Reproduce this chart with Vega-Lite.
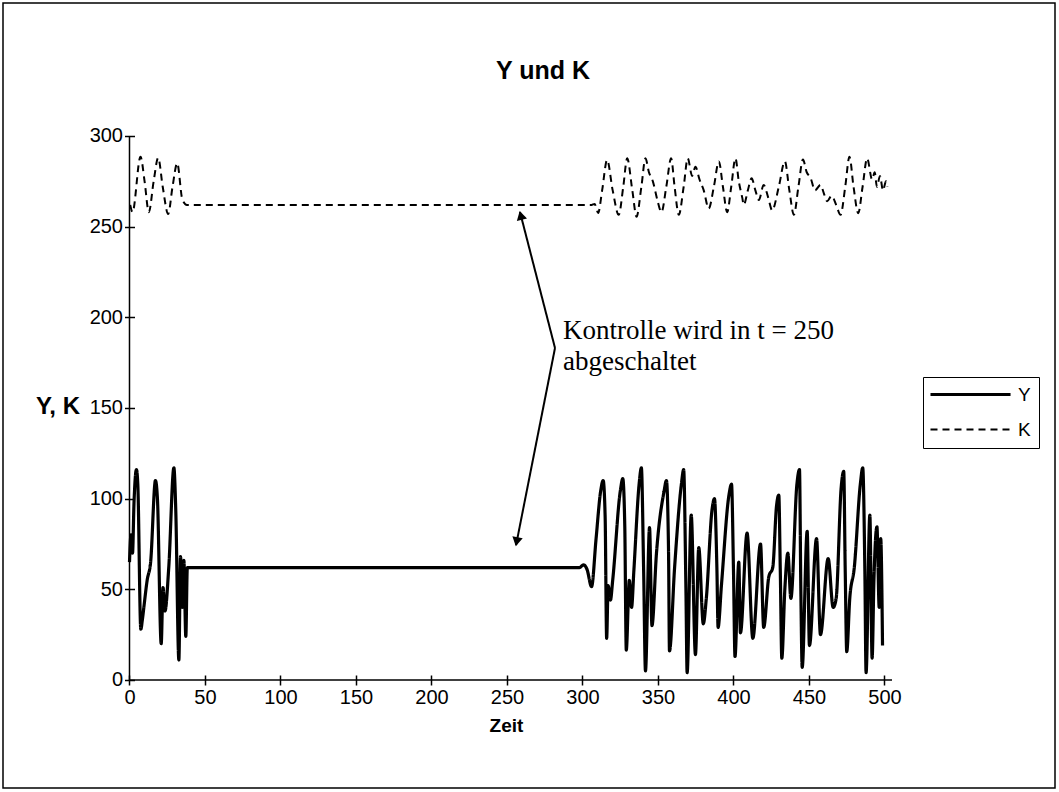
{
  "$schema": "https://vega.github.io/schema/vega-lite/v6.json",
  "width": 1052,
  "height": 785,
  "autosize": {"type": "none"},
  "padding": {"left": 3, "top": 3, "right": 4, "bottom": 4},
  "background": "white",
  "config": {"view": {"stroke": "black", "strokeWidth": 1.5}, "font": "Liberation Sans"},
  "title": {"text": "Y und K", "font": "Liberation Sans", "fontSize": 25, "fontWeight": "bold", "color": "black", "anchor": "middle", "frame": "group", "offset": -93, "baseline": "middle", "dx": 14},
  "datasets": {
    "series": [
      {"t":0,"s":"Y","v":65},{"t":1,"s":"Y","v":80},{"t":2,"s":"Y","v":70},{"t":3,"s":"Y","v":98},{"t":4.6,"s":"Y","v":116},{"t":5.5,"s":"Y","v":108},{"t":7.5,"s":"Y","v":28},{"t":8.5,"s":"Y","v":33},{"t":9.5,"s":"Y","v":40},{"t":11.7,"s":"Y","v":55},{"t":14,"s":"Y","v":65},{"t":17.2,"s":"Y","v":110},{"t":18.5,"s":"Y","v":100},{"t":21,"s":"Y","v":20},{"t":22.2,"s":"Y","v":51},{"t":23.5,"s":"Y","v":38},{"t":26,"s":"Y","v":62},{"t":29.4,"s":"Y","v":117},{"t":30.6,"s":"Y","v":95},{"t":32.7,"s":"Y","v":11},{"t":33.8,"s":"Y","v":68},{"t":35,"s":"Y","v":40},{"t":36,"s":"Y","v":66},{"t":37.3,"s":"Y","v":24},{"t":38.3,"s":"Y","v":62},{"t":40,"s":"Y","v":62},{"t":298,"s":"Y","v":62},{"t":300.7,"s":"Y","v":63.5},{"t":303,"s":"Y","v":61},{"t":306,"s":"Y","v":51.5},{"t":309,"s":"Y","v":78},{"t":312,"s":"Y","v":104},{"t":313.7,"s":"Y","v":110},{"t":315,"s":"Y","v":90},{"t":316,"s":"Y","v":23},{"t":317,"s":"Y","v":52},{"t":318.5,"s":"Y","v":44},{"t":320,"s":"Y","v":55},{"t":325,"s":"Y","v":104},{"t":326.7,"s":"Y","v":111},{"t":328,"s":"Y","v":85},{"t":329,"s":"Y","v":16.5},{"t":331,"s":"Y","v":55},{"t":332.5,"s":"Y","v":40},{"t":334,"s":"Y","v":60},{"t":337.5,"s":"Y","v":108},{"t":339,"s":"Y","v":117},{"t":340.5,"s":"Y","v":60},{"t":341.7,"s":"Y","v":5},{"t":344.4,"s":"Y","v":84},{"t":346,"s":"Y","v":30},{"t":349,"s":"Y","v":70},{"t":354,"s":"Y","v":104},{"t":355.6,"s":"Y","v":110},{"t":357,"s":"Y","v":70},{"t":357.6,"s":"Y","v":16},{"t":361,"s":"Y","v":62},{"t":365.5,"s":"Y","v":108},{"t":367,"s":"Y","v":116},{"t":368.5,"s":"Y","v":50},{"t":369.3,"s":"Y","v":4},{"t":372,"s":"Y","v":91},{"t":374.8,"s":"Y","v":14},{"t":377,"s":"Y","v":73},{"t":380,"s":"Y","v":31},{"t":382,"s":"Y","v":45},{"t":385.8,"s":"Y","v":94},{"t":387.4,"s":"Y","v":100},{"t":389,"s":"Y","v":62},{"t":389.8,"s":"Y","v":29},{"t":392,"s":"Y","v":52},{"t":397,"s":"Y","v":102},{"t":398.7,"s":"Y","v":108},{"t":400,"s":"Y","v":60},{"t":401,"s":"Y","v":13},{"t":403.5,"s":"Y","v":65},{"t":404.6,"s":"Y","v":26},{"t":409,"s":"Y","v":81},{"t":412.8,"s":"Y","v":23},{"t":417.9,"s":"Y","v":75},{"t":420,"s":"Y","v":29},{"t":423.4,"s":"Y","v":57},{"t":426,"s":"Y","v":62},{"t":428.5,"s":"Y","v":96},{"t":430,"s":"Y","v":102},{"t":431,"s":"Y","v":60},{"t":432,"s":"Y","v":12},{"t":434,"s":"Y","v":50},{"t":436,"s":"Y","v":70},{"t":438,"s":"Y","v":45},{"t":442,"s":"Y","v":108},{"t":443.7,"s":"Y","v":116},{"t":444.6,"s":"Y","v":50},{"t":445.5,"s":"Y","v":7},{"t":448.8,"s":"Y","v":82},{"t":450.3,"s":"Y","v":19},{"t":455,"s":"Y","v":78},{"t":457.6,"s":"Y","v":25},{"t":462.7,"s":"Y","v":67},{"t":466,"s":"Y","v":40},{"t":468,"s":"Y","v":45},{"t":471.3,"s":"Y","v":106},{"t":473,"s":"Y","v":115},{"t":474,"s":"Y","v":60},{"t":475,"s":"Y","v":15.6},{"t":477,"s":"Y","v":45},{"t":480,"s":"Y","v":62},{"t":484,"s":"Y","v":108},{"t":485.6,"s":"Y","v":117},{"t":487,"s":"Y","v":60},{"t":487.8,"s":"Y","v":4},{"t":490.3,"s":"Y","v":91},{"t":491.8,"s":"Y","v":12},{"t":493,"s":"Y","v":55},{"t":495,"s":"Y","v":84.5},{"t":496.5,"s":"Y","v":40},{"t":497.5,"s":"Y","v":78},{"t":498.7,"s":"Y","v":19},
      {"t":0.5,"s":"K","v":262},{"t":2,"s":"K","v":258},{"t":7.3,"s":"K","v":288.6},{"t":10,"s":"K","v":275},{"t":12.8,"s":"K","v":258},{"t":16,"s":"K","v":275},{"t":19,"s":"K","v":288},{"t":22,"s":"K","v":272},{"t":25.6,"s":"K","v":257},{"t":28.5,"s":"K","v":272},{"t":31.6,"s":"K","v":285},{"t":35,"s":"K","v":265},{"t":38,"s":"K","v":262},{"t":306,"s":"K","v":262},{"t":308,"s":"K","v":262.5},{"t":310.4,"s":"K","v":257.6},{"t":313,"s":"K","v":270},{"t":316.3,"s":"K","v":286.8},{"t":320,"s":"K","v":270},{"t":324,"s":"K","v":256.5},{"t":327,"s":"K","v":272},{"t":329.6,"s":"K","v":287.7},{"t":333,"s":"K","v":270},{"t":335.8,"s":"K","v":255.5},{"t":339,"s":"K","v":272},{"t":341.7,"s":"K","v":287.7},{"t":344,"s":"K","v":280},{"t":346.6,"s":"K","v":275},{"t":349.5,"s":"K","v":265},{"t":352.3,"s":"K","v":258},{"t":355.5,"s":"K","v":272},{"t":358.7,"s":"K","v":287.7},{"t":361,"s":"K","v":272},{"t":363.8,"s":"K","v":256.5},{"t":367,"s":"K","v":272},{"t":369.7,"s":"K","v":287.7},{"t":372.6,"s":"K","v":278},{"t":374.8,"s":"K","v":283},{"t":377.5,"s":"K","v":276},{"t":380.3,"s":"K","v":270},{"t":383.6,"s":"K","v":260},{"t":387,"s":"K","v":272},{"t":390.3,"s":"K","v":286},{"t":393,"s":"K","v":272},{"t":395.8,"s":"K","v":258},{"t":398.5,"s":"K","v":272},{"t":401.3,"s":"K","v":287.7},{"t":403.5,"s":"K","v":275},{"t":405.8,"s":"K","v":266},{"t":406.8,"s":"K","v":262},{"t":409.5,"s":"K","v":270},{"t":412,"s":"K","v":276.7},{"t":414.5,"s":"K","v":270},{"t":416.8,"s":"K","v":264.7},{"t":420,"s":"K","v":273},{"t":423,"s":"K","v":266},{"t":425.6,"s":"K","v":259},{"t":430,"s":"K","v":272},{"t":434,"s":"K","v":286},{"t":437,"s":"K","v":270},{"t":440,"s":"K","v":256.5},{"t":443,"s":"K","v":272},{"t":446,"s":"K","v":287},{"t":448.5,"s":"K","v":280},{"t":451,"s":"K","v":277},{"t":454,"s":"K","v":270},{"t":457.6,"s":"K","v":273},{"t":460,"s":"K","v":268},{"t":462,"s":"K","v":264},{"t":465,"s":"K","v":267},{"t":468,"s":"K","v":262},{"t":470.9,"s":"K","v":256.5},{"t":474,"s":"K","v":272},{"t":476.8,"s":"K","v":288.6},{"t":479.5,"s":"K","v":272},{"t":482.6,"s":"K","v":257.4},{"t":485.5,"s":"K","v":272},{"t":488.5,"s":"K","v":287.7},{"t":491.8,"s":"K","v":276},{"t":493.5,"s":"K","v":280},{"t":495,"s":"K","v":272},{"t":497,"s":"K","v":278},{"t":499,"s":"K","v":270},{"t":501,"s":"K","v":275},{"t":502,"s":"K","v":272}
    ]
  },
  "layer": [
    {
      "data": {"name": "series"},
      "mark": {"type": "line", "color": "black", "strokeJoin": "round", "interpolate": "monotone"},
      "encoding": {
        "x": {"field": "t", "type": "quantitative",
          "scale": {"domain": [-83.77, 612.92], "nice": false, "zero": false},
          "axis": {"values": [0,50,100,150,200,250,300,350,400,450,500], "grid": false, "domain": false, "offset": -113, "tickSize": 10, "tickColor": "black", "tickWidth": 1.5, "labelFontSize": 20, "labelColor": "black", "labelPadding": 2, "labelFont": "Liberation Sans",
            "title": "Zeit", "titleFont": "Liberation Sans", "titleFontWeight": "bold", "titleFontSize": 19, "titleColor": "black", "titleX": 503, "titleY": 50, "titleBaseline": "middle", "titleAlign": "center"}},
        "y": {"field": "v", "type": "quantitative",
          "scale": {"domain": [-59.56, 373.34], "nice": false, "zero": false},
          "axis": {"values": [0,50,100,150,200,250,300], "grid": false, "domain": false, "offset": -131.5, "tickSize": 10, "tickColor": "black", "tickWidth": 1.5, "labelFontSize": 20, "labelColor": "black", "labelPadding": 2, "labelFont": "Liberation Sans",
            "title": "Y, K", "titleFont": "Liberation Sans", "titleFontWeight": "bold", "titleFontSize": 24, "titleColor": "black", "titleAngle": 0, "titleAlign": "right", "titleBaseline": "middle", "titleX": -55, "titleY": 403}},
        "strokeDash": {"field": "s", "type": "nominal",
          "scale": {"domain": ["Y", "K"], "range": [[1, 0], [7, 5]]},
          "legend": {"title": null, "orient": "none", "legendX": 920, "legendY": 374, "strokeColor": "black", "fillColor": "white", "padding": 8, "symbolType": "M-1.5,0L10.5,0", "symbolSize": 178, "symbolStrokeWidth": 2, "symbolStrokeColor": "black", "symbolFillColor": "transparent", "labelFontSize": 19, "labelColor": "black", "labelFont": "Liberation Sans", "labelOffset": 68, "rowPadding": 15}},
        "strokeWidth": {"field": "s", "type": "nominal", "scale": {"domain": ["Y", "K"], "range": [3.2, 2]}, "legend": null}
      }
    },
    {
      "data": {"values": [{}]},
      "mark": {"type": "rule", "color": "black", "strokeWidth": 1.5},
      "encoding": {"x": {"datum": 0}, "y": {"datum": 0}, "y2": {"datum": 300}}
    },
    {
      "data": {"values": [{}]},
      "mark": {"type": "rule", "color": "black", "strokeWidth": 1.5},
      "encoding": {"x": {"datum": 0}, "x2": {"datum": 505}, "y": {"datum": 0}}
    },
    {
      "data": {"values": [{}]},
      "mark": {"type": "rule", "color": "black", "strokeWidth": 2},
      "encoding": {"x": {"datum": 281.8}, "y": {"datum": 183.1}, "x2": {"datum": 258.6}, "y2": {"datum": 258.1}}
    },
    {
      "data": {"values": [{}]},
      "mark": {"type": "rule", "color": "black", "strokeWidth": 2},
      "encoding": {"x": {"datum": 281.8}, "y": {"datum": 183.1}, "x2": {"datum": 256.0}, "y2": {"datum": 74.4}}
    },
    {
      "data": {"values": [{}]},
      "mark": {"type": "point", "shape": "triangle", "filled": true, "color": "black", "size": 110, "angle": 345.6, "opacity": 1},
      "encoding": {"x": {"datum": 259.4}, "y": {"datum": 255.4}}
    },
    {
      "data": {"values": [{}]},
      "mark": {"type": "point", "shape": "triangle", "filled": true, "color": "black", "size": 110, "angle": 191.2, "opacity": 1},
      "encoding": {"x": {"datum": 256.6}, "y": {"datum": 77.1}}
    },
    {
      "data": {"values": [{}]},
      "mark": {"type": "text", "text": "Kontrolle wird in t = 250", "font": "Liberation Serif", "fontSize": 27, "align": "left", "baseline": "alphabetic", "color": "black"},
      "encoding": {"x": {"datum": 287.1}, "y": {"datum": 188.0}}
    },
    {
      "data": {"values": [{}]},
      "mark": {"type": "text", "text": "abgeschaltet", "font": "Liberation Serif", "fontSize": 27, "align": "left", "baseline": "alphabetic", "color": "black"},
      "encoding": {"x": {"datum": 287.1}, "y": {"datum": 171.0}}
    }
  ]
}
